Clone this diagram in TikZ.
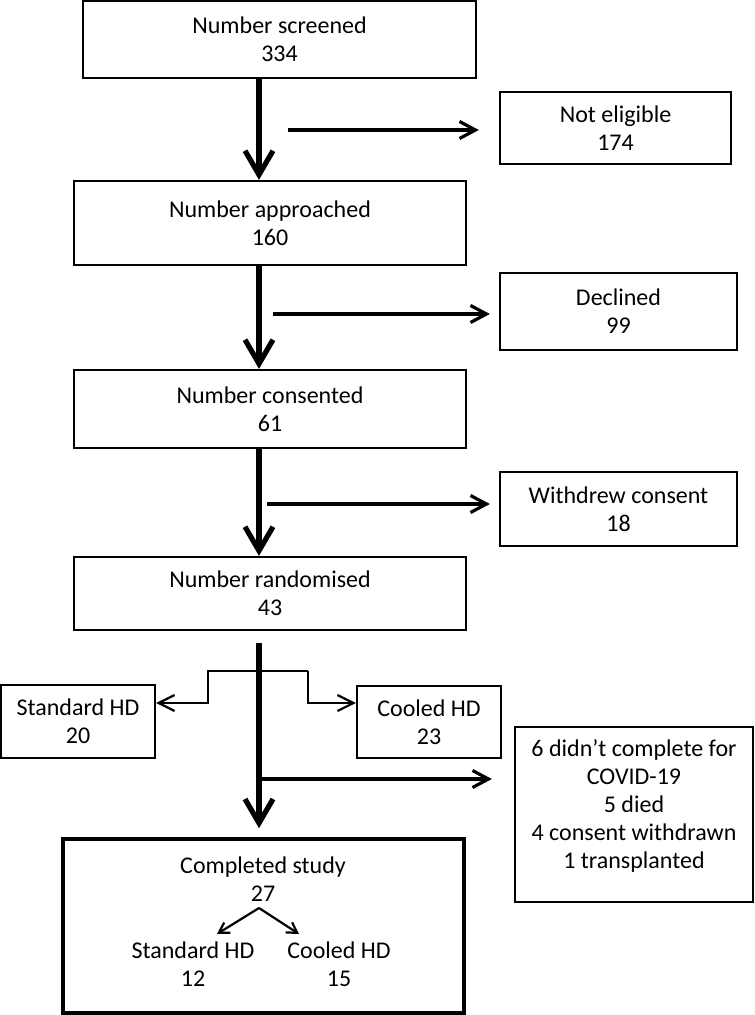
\documentclass[tikz,border=0pt]{standalone}
\usepackage{fontspec}
\setmainfont{Carlito}
\usetikzlibrary{arrows.meta}

\begin{document}
\begin{tikzpicture}[x=0.5pt,y=-0.5pt]
\tikzstyle{every node}+=[inner sep=0pt, align=center, font=\fontsize{12}{14}\selectfont]
\tikzstyle{box}=[draw=black, line width=1.1pt]
\tikzstyle{main}=[line width=2.6pt, -{Straight Barb[length=12pt,width=14pt]}]
\tikzstyle{side}=[line width=1.6pt, -{Straight Barb[length=8pt,width=8.5pt]}]
\tikzstyle{arm}=[line width=1.1pt, -{Straight Barb[length=8pt,width=8pt]}]
\tikzstyle{sub}=[line width=1.1pt, -{Straight Barb[length=5pt,width=6pt]}]
\useasboundingbox (0,0) rectangle (754,1015);
% main column
\node [box, minimum width=196.5pt, minimum height=38.5pt] (screened) at (279.5,39.5) {Number screened\\334};
\node [box, minimum width=196pt, minimum height=42pt] (approached) at (270,223) {Number approached\\160};
\node [box, minimum width=196pt, minimum height=39pt] (consented) at (270,409) {Number consented\\61};
\node [box, minimum width=196pt, minimum height=36.5pt] (randomised) at (270,593.5) {Number randomised\\43};
% exclusions
\node [box, minimum width=115.5pt, minimum height=36pt] (noteligible) at (615.5,128) {Not eligible\\174};
\node [box, minimum width=118.5pt, minimum height=38.5pt] (declined) at (618.5,311.5) {Declined\\99};
\node [box, minimum width=118.5pt, minimum height=37pt] (withdrew) at (618.5,509) {Withdrew consent\\18};
\node [box, minimum width=119pt, minimum height=87.5pt] (exclbox) at (634,814.5) {};
\node (excl) at (634,806) {6 didn't complete for\\COVID-19\\5 died\\4 consent withdrawn\\1 transplanted};
% arms
\node [box, minimum width=77pt, minimum height=36.5pt] (standard) at (78,721.5) {Standard HD\\20};
\node [box, minimum width=72pt, minimum height=36pt] (cooled) at (429,722) {Cooled HD\\23};
% completed
\node [draw=black, line width=1.8pt, minimum width=200.5pt, minimum height=87pt] (completed) at (263.5,926) {};
\node (comptext) at (263,879) {Completed study\\27};
\node (substd) at (193,964) {Standard HD\\12};
\node (subcool) at (339,964) {Cooled HD\\15};

\coordinate (spine) at (259,0);
\coordinate (e1) at (288,130);
\coordinate (e2) at (273,314);
\coordinate (e3) at (267,504);
\coordinate (e4) at (259,779);
\coordinate (m4) at (259,643);
\coordinate (kl) at (208,671);
\coordinate (kr) at (308,671);
\coordinate (ka) at (0,703);
\coordinate (split) at (259,908);
\coordinate (sl) at (217,934);
\coordinate (sr) at (299,934);

\draw [main] (screened.south -| spine) -- (approached.north -| spine);
\draw [main] (approached.south -| spine) -- (consented.north -| spine);
\draw [main] (consented.south -| spine) -- (randomised.north -| spine);
\draw [main, shorten >=4.5pt] (m4) -- (completed.north -| spine);
\draw [side, shorten >=10pt] (e1) -- (e1 -| noteligible.west);
\draw [side, shorten >=4.5pt] (e2) -- (e2 -| declined.west);
\draw [side, shorten >=4.5pt] (e3) -- (e3 -| withdrew.west);
\draw [side, shorten >=11pt] (e4) -- (e4 -| exclbox.west);
\draw [arm] (kr) -- (kl) |- (ka -| standard.east);
\draw [arm] (kr) |- (ka -| cooled.west);
\draw [sub] (split) -- (sl);
\draw [sub] (split) -- (sr);
\end{tikzpicture}
\end{document}
